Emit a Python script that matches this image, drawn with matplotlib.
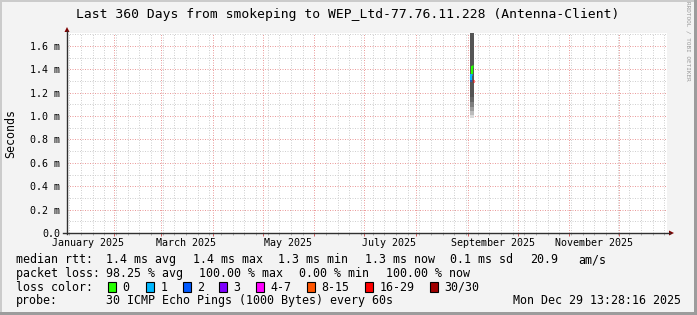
import matplotlib
matplotlib.use("Agg")
import matplotlib.pyplot as plt
import matplotlib.dates as mdates
import matplotlib.transforms as mtransforms
from matplotlib.patches import Rectangle, Polygon
from matplotlib.lines import Line2D
from matplotlib.ticker import MultipleLocator, FuncFormatter, NullFormatter
from datetime import datetime, timedelta

plt.rcParams['font.family'] = ['DejaVu Sans Mono']

W, H = 697, 315

title = "Last 360 Days from smokeping to WEP_Ltd-77.76.11.228 (Antenna-Client)"
t_start = datetime(2025, 1, 3, 13, 28, 16)
t_end = datetime(2025, 12, 29, 13, 28, 16)
y_max_ms = 1.711

label_months = [1, 3, 5, 7, 9, 11]
month_labels = ["January 2025", "March 2025", "May 2025", "July 2025",
                "September 2025", "November 2025"]

# the only data: a short burst in early september (one step ~ 14.4 h)
spike_times = ["2025-09-02 10:00", "2025-09-03 00:24", "2025-09-03 14:48", "2025-09-04 05:12"]
step_hours = 14.4
median_ms = [1.31, 1.36, 1.43, 1.30]
lost = [2, 1, 0, 20]
# smoke bands, outer to inner (upper edges are off the chart)
smoke_lo_ms = [0.98, 1.01, 1.04, 1.08, 1.12, 1.16]
smoke_hi_ms = [2.60, 2.55, 2.50, 2.45, 2.40, 2.35]

loss_labels = ["0", "1", "2", "3", "4-7", "8-15", "16-29", "30/30"]
loss_colors = ["#26ff00", "#00b8ff", "#0059ff", "#7e00ff",
               "#ff00ff", "#ff5500", "#ff0000", "#a00000"]

rtt_items = ["1.4 ms avg", "1.4 ms max", "1.3 ms min", "1.3 ms now", "0.1 ms sd", "20.9", "am/s"]
loss_items = ["98.25 % avg", "100.00 % max", "0.00 % min", "100.00 % now"]
probe_text = "30 ICMP Echo Pings (1000 Bytes) every 60s"
stamp = "Mon Dec 29 13:28:16 2025"


def fx(x):
    return x / W


def fy(y):
    return 1 - y / H


def loss_bucket(n):
    if n <= 3:
        return n
    if n <= 7:
        return 4
    if n <= 15:
        return 5
    if n <= 29:
        return 6
    return 7


fig = plt.figure(figsize=(W / 100, H / 100), dpi=100)
fig.patch.set_facecolor("#f3f3f3")

# frame shading
fig.add_artist(Rectangle((0, fy(2)), 1, 2 / H, transform=fig.transFigure, color="#cbcbcb", lw=0))
fig.add_artist(Rectangle((0, 0), fx(2), 1, transform=fig.transFigure, color="#cbcbcb", lw=0))
fig.add_artist(Rectangle((0, 0), 1, 3 / H, transform=fig.transFigure, color="#9c9c9c", lw=0))
fig.add_artist(Rectangle((fx(694), 0), 3 / W, 1, transform=fig.transFigure, color="#9c9c9c", lw=0))

ax = fig.add_axes([fx(67), fy(233), 600 / W, 200 / H])
ax.set_facecolor("white")
ax.set_xlim(mdates.date2num(t_start), mdates.date2num(t_end))
ax.set_ylim(0, y_max_ms / 1000)
for s in ax.spines.values():
    s.set_visible(False)

times = [mdates.date2num(datetime.strptime(t, "%Y-%m-%d %H:%M")) for t in spike_times]
step = step_hours / 24
shades = ["#dadada", "#bcbcbc", "#9c9c9c", "#7e7e7e", "#666666", "#555555"]
for lo, hi, c in zip(smoke_lo_ms, smoke_hi_ms, shades):
    ax.bar(times, [(hi - lo) / 1000] * len(times), bottom=lo / 1000, width=step,
           align="edge", color=c, linewidth=0, zorder=2)

# median line, coloured by loss of each step
prev = None
for t, m, n in zip(times, median_ms, lost):
    c = loss_colors[loss_bucket(n)]
    ax.hlines(m / 1000, t, t + step, colors=c, lw=2.2, zorder=3)
    if prev is not None and n < 16:
        ax.vlines(t, prev / 1000, m / 1000, colors=c, lw=1.5, zorder=3)
    prev = m

# grid
ax.xaxis.set_major_locator(mdates.MonthLocator())
ax.xaxis.set_minor_locator(mdates.WeekdayLocator(byweekday=mdates.SU))
ax.xaxis.set_major_formatter(NullFormatter())
ax.yaxis.set_major_locator(MultipleLocator(0.0002))
ax.yaxis.set_minor_locator(MultipleLocator(0.0001))
ax.yaxis.set_major_formatter(FuncFormatter(lambda v, p: "0.0" if abs(v) < 1e-9 else f"{v * 1000:.1f} m"))
ax.grid(which="major", color="#eb9c9c", lw=0.72, ls=(0, (1, 1.5)), zorder=0)
ax.grid(which="minor", color="#d0d0d0", lw=0.72, ls=(0, (1, 1.5)), zorder=0)
ax.set_axisbelow(True)
ax.tick_params(axis="y", which="both", length=0, pad=5, labelsize=7.2)
ax.tick_params(axis="x", which="major", length=2, width=0.72, color="#d06060")
ax.tick_params(axis="x", which="minor", length=1.5, width=0.72, color="#b0b0b0")

trans = mtransforms.blended_transform_factory(ax.transData, fig.transFigure)
for m, lab in zip(label_months, month_labels):
    xc = mdates.date2num(datetime(2025, m, 1) + timedelta(days=15))
    ax.text(xc, fy(242.5), lab, ha="center", va="center", fontsize=7.2, transform=trans)

# axes with arrows
fig.add_artist(Line2D([fx(63), fx(670)], [fy(233), fy(233)], color="#303030", lw=1.0))
fig.add_artist(Line2D([fx(67), fx(67)], [fy(234), fy(31)], color="#303030", lw=1.0))
fig.add_artist(Polygon([(fx(64.5), fy(32)), (fx(69.5), fy(32)), (fx(67), fy(27))],
                       closed=True, transform=fig.transFigure, color="#7f0000", lw=0))
fig.add_artist(Polygon([(fx(669), fy(230.5)), (fx(669), fy(235.5)), (fx(674), fy(233))],
                       closed=True, transform=fig.transFigure, color="#7f0000", lw=0))

fig.text(fx(348), fy(18.3), title, ha="center", va="baseline", fontsize=9.4)
fig.text(fx(11), fy(133), "Seconds", rotation=90, ha="center", va="center", fontsize=8.35)
fig.text(fx(688), fy(41), "RRDTOOL / TOBI OETIKER", rotation=270, ha="center", va="center",
         fontsize=4.3, color="#999999")

# legend
fs = 8.35
fig.text(fx(16), fy(263.3), "median rtt:", fontsize=fs, va="baseline")
for txt, x in zip(rtt_items, [106, 193, 278, 365, 450, 530, 578]):
    fig.text(fx(x), fy(263.3), txt, fontsize=fs, va="baseline")

fig.text(fx(16), fy(277), "packet loss:", fontsize=fs, va="baseline")
for txt, x in zip(loss_items, [106, 199, 299, 386]):
    fig.text(fx(x), fy(277), txt, fontsize=fs, va="baseline")

fig.text(fx(16), fy(290.7), "loss color:", fontsize=fs, va="baseline")
for lab, c, x in zip(loss_labels, loss_colors, [108, 146, 183, 219, 256, 307, 365, 430]):
    fig.add_artist(Rectangle((fx(x), fy(291.5)), 8 / W, 9.5 / H, transform=fig.transFigure,
                             facecolor=c, edgecolor="black", lw=0.8))
    fig.text(fx(x + 14.5), fy(290.7), lab, fontsize=fs, va="baseline")

fig.text(fx(16), fy(304.3), "probe:", fontsize=fs, va="baseline")
fig.text(fx(106), fy(304.3), probe_text, fontsize=fs, va="baseline")
fig.text(fx(681), fy(304.3), stamp, fontsize=fs, va="baseline", ha="right")

fig.savefig("out.png", dpi=100, facecolor=fig.get_facecolor())
